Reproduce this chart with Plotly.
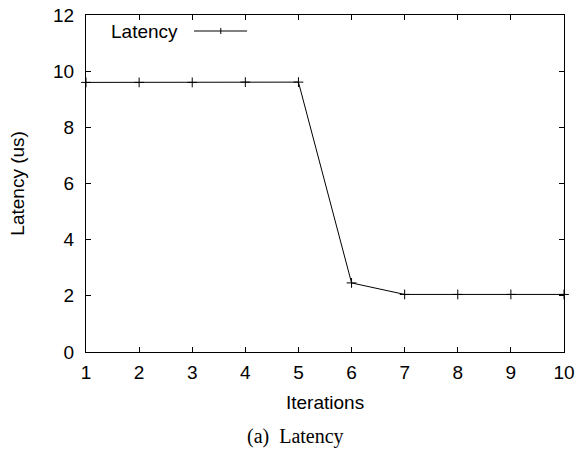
import plotly.graph_objects as go

iterations = [1, 2, 3, 4, 5, 6, 7, 8, 9, 10]
latency = [9.6, 9.6, 9.6, 9.61, 9.61, 2.46, 2.05, 2.05, 2.05, 2.05]
x_ticks = [1, 2, 3, 4, 5, 6, 7, 8, 9, 10]
y_ticks = [0, 2, 4, 6, 8, 10, 12]

font_sans = "Liberation Sans, Arial, sans-serif"
FS = 19

fig = go.Figure()
fig.add_trace(go.Scatter(
    x=iterations, y=latency, mode="lines+markers",
    line=dict(color="black", width=1),
    marker=dict(symbol="cross-thin", size=7, line=dict(color="black", width=1)),
    showlegend=False, cliponaxis=False,
))

axis_common = dict(
    showgrid=False, zeroline=False, showline=True, linecolor="black", linewidth=1,
    mirror="allticks", ticks="inside", ticklen=5, tickcolor="black", tickwidth=1,
    tickfont=dict(family=font_sans, size=FS, color="black"), automargin=False,
)

fig.update_layout(
    width=577, height=451,
    margin=dict(l=86, r=13, t=15, b=99),
    plot_bgcolor="white", paper_bgcolor="white",
    xaxis=dict(range=[1, 10], tickvals=x_ticks, ticklabelstandoff=3, **axis_common),
    yaxis=dict(range=[0, 12], tickvals=y_ticks, ticklabelstandoff=7, **axis_common),
    annotations=[
        dict(text="Iterations", xref="paper", yref="paper", x=0.5, y=-0.150,
             xanchor="center", yanchor="middle", showarrow=False,
             font=dict(family=font_sans, size=FS, color="black")),
        dict(text="Latency (us)", xref="paper", yref="paper", x=-0.144, y=0.5,
             xanchor="center", yanchor="middle", showarrow=False, textangle=-90,
             font=dict(family=font_sans, size=FS, color="black")),
        dict(text="Latency", xref="paper", yref="paper", x=0.197, y=0.9525,
             xanchor="right", yanchor="middle", showarrow=False,
             font=dict(family=font_sans, size=FS, color="black")),
        dict(text="(a)  Latency", xref="paper", yref="paper", x=0.439, y=-0.252,
             xanchor="center", yanchor="middle", showarrow=False,
             font=dict(family="Liberation Serif, Times New Roman, serif", size=20, color="black")),
    ],
    shapes=[
        dict(type="line", xref="paper", yref="paper", x0=0.226, x1=0.337, y0=0.9525, y1=0.9525,
             line=dict(color="black", width=1)),
        dict(type="line", xref="paper", yref="paper", x0=0.282, x1=0.282, y0=0.9435, y1=0.9615,
             line=dict(color="black", width=1)),
    ],
)

fig.write_html("out.html")
